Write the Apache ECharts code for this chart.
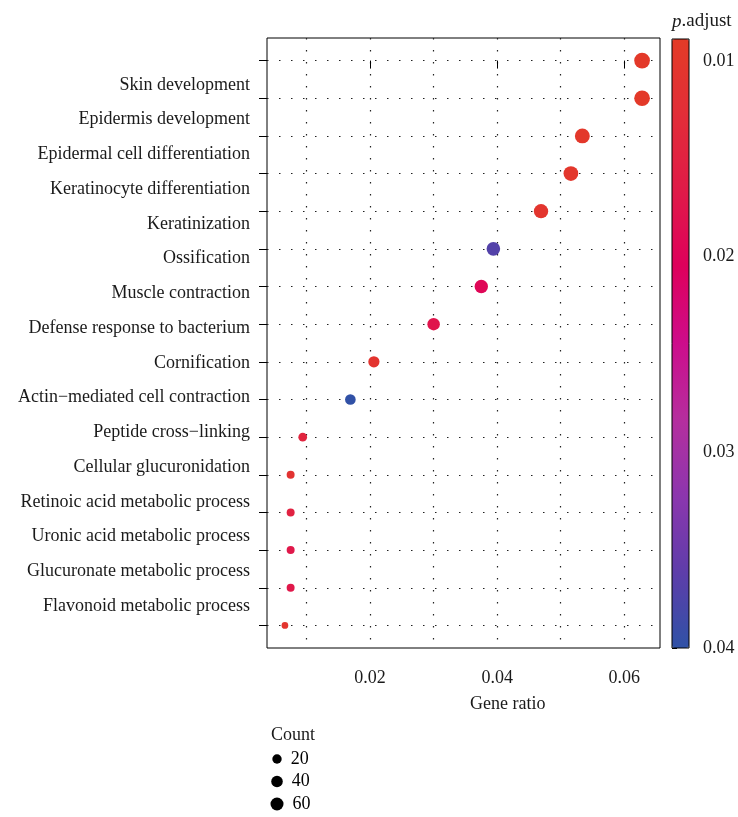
<!DOCTYPE html>
<html>
<head>
<meta charset="utf-8">
<script src="https://cdn.jsdelivr.net/npm/echarts@6/dist/echarts.min.js"></script>
<style>
  html, body { margin: 0; padding: 0; background: #fff; }
  #chart { width: 738px; height: 817px; }
</style>
</head>
<body>
<div id="chart"></div>
<script>
// GO terms, top to bottom
var terms = ['Skin development', 'Epidermis development', 'Epidermal cell differentiation',
  'Keratinocyte differentiation', 'Keratinization', 'Ossification', 'Muscle contraction',
  'Defense response to bacterium', 'Cornification', 'Actin\u2212mediated cell contraction',
  'Peptide cross\u2212linking', 'Cellular glucuronidation', 'Retinoic acid metabolic process',
  'Uronic acid metabolic process', 'Glucuronate metabolic process', 'Flavonoid metabolic process'];
var geneRatio = [0.0628, 0.0628, 0.0534, 0.0516, 0.0469, 0.0394, 0.0375, 0.0300,
  0.0206, 0.0169, 0.0094, 0.0075, 0.0075, 0.0075, 0.0075, 0.0066];
var counts = [110, 110, 93, 90, 82, 69, 66, 52, 36, 30, 16, 13, 13, 13, 13, 11];
var padj = [0.0093, 0.0093, 0.0098, 0.0100, 0.0105, 0.0370, 0.0195, 0.0175,
  0.0108, 0.0398, 0.0145, 0.0112, 0.0150, 0.0170, 0.0170, 0.0105];

var xTicks = [0.02, 0.04, 0.06];
var xGrid = [0.01, 0.02, 0.03, 0.04, 0.05, 0.06];
var pTicks = [0.01, 0.02, 0.03, 0.04];
var legendCounts = [20, 40, 60];

var font = 'Liberation Serif';
var txt = '#1a1a1a';
var cMin = Math.min.apply(null, counts), cMax = Math.max.apply(null, counts);
// ggplot-like area scale, range 3..8
function dotSize(c) {
  var t = Math.max(0, (c - cMin) / (cMax - cMin));
  return 1.3 + 1.8 * (3 + 5 * Math.sqrt(t));
}

var idx = terms.map(function (t, i) { return i; });
var points = terms.map(function (t, i) { return [geneRatio[i], i, counts[i], padj[i]]; });
var dotted = { color: '#222', width: 1.2, type: [1.5, 10.5] };

var myChart = echarts.init(document.getElementById('chart'));
var option = {
  backgroundColor: '#fff',
  animation: false,
  textStyle: { fontFamily: font },
  title: [
    { text: '{i|p}.adjust', left: 667, top: 7,
      textStyle: { fontFamily: font, fontSize: 19, fontWeight: 'normal', color: txt,
        rich: { i: { fontFamily: font, fontSize: 19, fontStyle: 'italic', color: txt } } } },
    { text: 'Gene ratio', left: 465, top: 690,
      textStyle: { fontFamily: font, fontSize: 18, fontWeight: 'normal', color: txt } },
    { text: 'Count', left: 266, top: 721,
      textStyle: { fontFamily: font, fontSize: 18, fontWeight: 'normal', color: txt } }
  ],
  grid: [
    { left: 267, top: 38, width: 393, height: 610, show: true, borderColor: '#000', borderWidth: 1, outerBoundsMode: 'none' },
    { left: 267, top: 85, width: 10, height: 521, outerBoundsMode: 'none' },
    { left: 272, top: 759, width: 10, height: 45, outerBoundsMode: 'none' },
    { left: 672, top: 39, width: 17, height: 609, show: true, z: 10, backgroundColor: 'transparent',
      borderColor: '#000', borderWidth: 1, outerBoundsMode: 'none' }
  ],
  xAxis: [
    { gridIndex: 0, type: 'value', min: 0.00378, max: 0.06562,
      axisLine: { show: false },
      axisTick: { show: true, customValues: xTicks, length: 8, lineStyle: { color: '#000' } },
      axisLabel: { customValues: xTicks, margin: 21, fontFamily: font, fontSize: 18, color: txt,
        formatter: function (v) { return v.toFixed(2); } },
      splitLine: { show: false } },
    { gridIndex: 0, type: 'value', min: 0.00378, max: 0.06562, position: 'bottom',
      axisLine: { show: false },
      axisTick: { show: false, customValues: xGrid },
      axisLabel: { show: false },
      splitLine: { show: true, lineStyle: dotted } },
    { gridIndex: 1, type: 'value', show: false },
    { gridIndex: 2, type: 'value', show: false, min: -1, max: 1 },
    { gridIndex: 3, type: 'value', show: false }
  ],
  yAxis: [
    { gridIndex: 0, type: 'value', min: -0.6, max: 15.6, inverse: true,
      axisLine: { show: false },
      axisTick: { show: true, customValues: idx, length: 8, lineStyle: { color: '#000' } },
      axisLabel: { show: false },
      splitLine: { show: true, lineStyle: dotted } },
    { gridIndex: 1, type: 'category', data: terms, boundaryGap: false, inverse: true,
      axisLine: { show: false }, axisTick: { show: false },
      axisLabel: { margin: 17, fontFamily: font, fontSize: 18, color: txt, interval: 0 } },
    { gridIndex: 2, type: 'category', data: legendCounts.map(String), boundaryGap: false, inverse: true,
      show: false },
    { gridIndex: 3, type: 'value', min: 0.00888, max: 0.04, inverse: true, position: 'right',
      axisLine: { show: false },
      axisTick: { show: true, customValues: pTicks, length: 5, lineStyle: { color: '#000' } },
      axisLabel: { customValues: pTicks, margin: 14, fontFamily: font, fontSize: 18, color: txt,
        formatter: function (v) { return v.toFixed(2); } },
      splitLine: { show: false } }
  ],
  visualMap: {
    type: 'continuous',
    seriesIndex: 0,
    dimension: 3,
    min: 0.00888,
    max: 0.04,
    inverse: true,
    calculable: false,
    showLabel: false,
    text: null,
    left: 672,
    top: 39,
    padding: 0,
    itemWidth: 17,
    itemHeight: 609,
    z: 2,
    inRange: {
      color: ['#E33B27', '#E22D38', '#E01A48', '#DE005C', '#CD0D8B', '#B52E9E', '#8C36AE', '#5E3DAA', '#2F52A6']
    }
  },
  series: [
    { type: 'scatter', xAxisIndex: 0, yAxisIndex: 0, data: points,
      encode: { x: 0, y: 1 },
      symbolSize: function (v) { return dotSize(v[2]); },
      itemStyle: { opacity: 1 }, z: 5 },
    { type: 'scatter', xAxisIndex: 3, yAxisIndex: 2,
      data: legendCounts.map(function (c, i) { return [0, i, c]; }),
      symbolSize: function (v) { return dotSize(v[2]); },
      itemStyle: { color: '#000', opacity: 1 },
      label: { show: true, position: 'right', distance: 9, fontFamily: font, fontSize: 18,
        color: '#000', opacity: 1, textBorderWidth: 0,
        formatter: function (p) { return String(p.value[2]); } } }
  ]
};
myChart.setOption(option);
</script>
</body>
</html>
